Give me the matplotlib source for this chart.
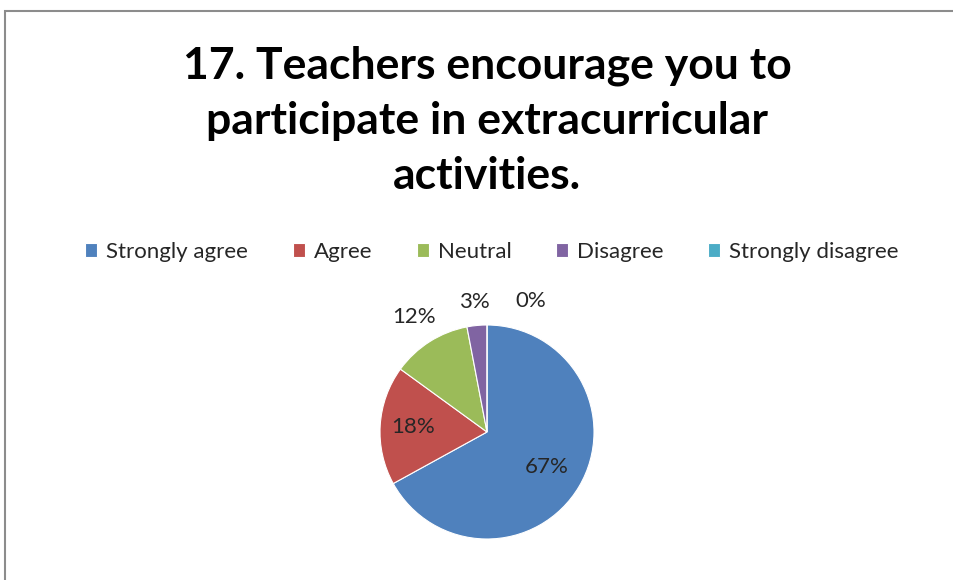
import matplotlib
matplotlib.use("Agg")
import matplotlib.pyplot as plt
from matplotlib.patches import Rectangle
import numpy as np

categories = ["Strongly agree", "Agree", "Neutral", "Disagree", "Strongly disagree"]
values = [67, 18, 12, 3, 0]
labels = ["67%", "18%", "12%", "3%", "0%"]
colors = ["#4F81BD", "#C0504D", "#9BBB59", "#8064A2", "#4BACC6"]
title = "17. Teachers encourage you to\nparticipate in extracurricular\nactivities."

plt.rcParams['font.family'] = ['Lato', 'DejaVu Sans']

W, H = 954, 580
fig = plt.figure(figsize=(W / 100, H / 100), dpi=100)
fig.patch.set_facecolor("white")

# chart border (left and top visible)
fig.patches.append(Rectangle((5 / W, -0.1), 1.2, (H - 11) / H + 0.1, transform=fig.transFigure,
                             fill=False, edgecolor="#8c8c8c", linewidth=1.5))

# pie geometry
cx, cy, R = 487, 432, 107
k = 1.6
ax = fig.add_axes([(cx - k * R) / W, (H - cy - k * R) / H, 2 * k * R / W, 2 * k * R / H])

wedges, _ = ax.pie(values, colors=colors, startangle=90, counterclock=False, radius=1.0,
                   wedgeprops=dict(linewidth=0.8, edgecolor="white"))
ax.set_xlim(-k, k)
ax.set_ylim(-k, k)
ax.set_aspect("equal")
ax.axis("off")

label_dist = [0.65, 0.69, 1.27, 1.22, 1.22]
label_dx = [0, 0, 0, 0, 0.41]
for w, lab, d, dx in zip(wedges, labels, label_dist, label_dx):
    ang = np.deg2rad((w.theta1 + w.theta2) / 2)
    ax.text(d * np.cos(ang) + dx, d * np.sin(ang), lab, ha="center", va="center",
            fontsize=16, color="#262626", clip_on=False)

fig.text(cx / W, 1 - 46 / H, title, ha="center", va="top", fontsize=32, fontweight="bold",
         color="black", linespacing=1.45)

leg = fig.legend(wedges, categories, loc="center", bbox_to_anchor=(492 / W, 1 - 252 / H),
                 ncol=5, frameon=False, fontsize=16, handlelength=0.55, handleheight=0.55,
                 handletextpad=0.4, columnspacing=2.0, labelcolor="#262626")

fig.savefig("out.png", dpi=100, facecolor="white")
